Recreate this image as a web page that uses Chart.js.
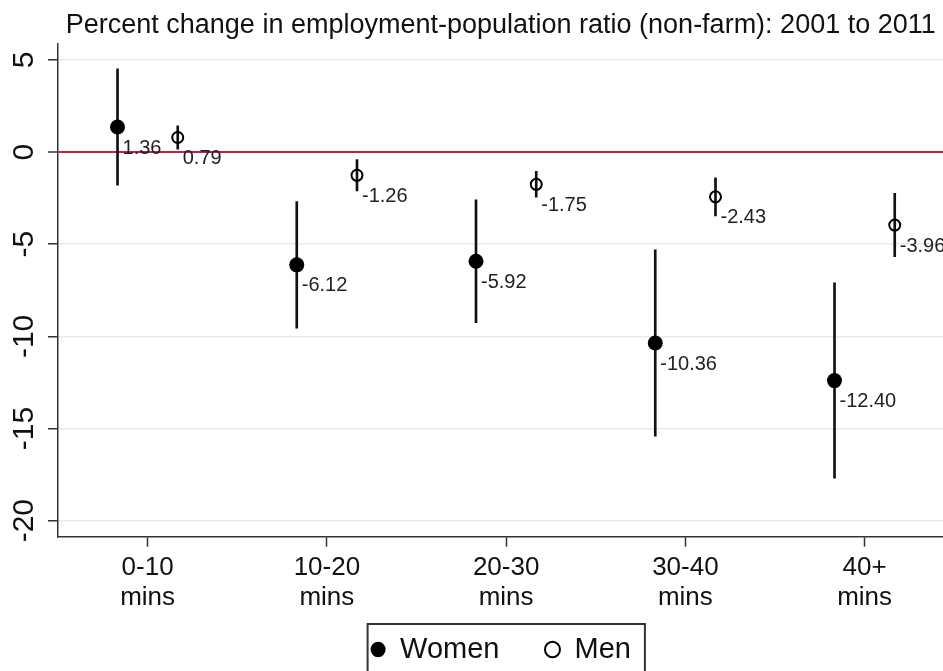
<!DOCTYPE html>
<html>
<head>
<meta charset="utf-8">
<script src="https://cdn.jsdelivr.net/npm/chart.js@4/dist/chart.umd.min.js"></script>
<style>
  html, body { margin: 0; padding: 0; background: #fff; overflow: hidden; }
  canvas { display: block; }
</style>
</head>
<body>
<canvas id="chart" width="951" height="674"></canvas>
<script>
const categories = ['0-10 mins', '10-20 mins', '20-30 mins', '30-40 mins', '40+ mins']
const womenMean = [1.36, -6.12, -5.92, -10.36, -12.40]
const womenLow = [-1.80, -9.55, -9.25, -15.41, -17.70]
const womenHigh = [4.52, -2.69, -2.59, -5.31, -7.10]
const menMean = [0.79, -1.26, -1.75, -2.43, -3.96]
const menLow = [0.16, -2.11, -2.45, -3.46, -5.68]
const menHigh = [1.42, -0.41, -1.05, -1.40, -2.24]
const yTicks = [-20, -15, -10, -5, 0, 5]

const shift = 0.168
const FONT = "'Liberation Sans', Arial, Helvetica, sans-serif"

// marker labels at the lower right of each point
const markerLabels = {
  id: 'markerLabels',
  afterDatasetsDraw(chart) {
    const ctx = chart.ctx
    ctx.save()
    ctx.font = '20px ' + FONT
    ctx.fillStyle = '#222'
    ctx.textAlign = 'left'
    ctx.textBaseline = 'middle'
    chart.data.datasets.forEach((ds, di) => {
      if (ds.type === 'bar') return
      chart.getDatasetMeta(di).data.forEach((pt, i) => {
        ctx.fillText(ds.data[i].y.toFixed(2), pt.x + 5, pt.y + 21)
      })
    })
    ctx.restore()
  }
}

// box round the legend
const legendBox = {
  id: 'legendBox',
  afterDraw(chart) {
    const boxes = chart.legend.legendHitBoxes
    if (!boxes || !boxes.length) return
    const first = boxes[0]
    const last = boxes[boxes.length - 1]
    const ctx = chart.ctx
    ctx.save()
    ctx.strokeStyle = '#333'
    ctx.lineWidth = 2
    const left = first.left - 3
    const right = last.left + last.width + 14
    ctx.strokeRect(left, first.top - 11, right - left, 100)
    ctx.restore()
  }
}

new Chart(document.getElementById('chart'), {
  type: 'scatter',
  data: {
    datasets: [
      {
        type: 'bar',
        label: 'Women CI',
        data: womenLow.map((lo, i) => ({ x: i - shift, y: [lo, womenHigh[i]] })),
        backgroundColor: '#111',
        barThickness: 2,
        grouped: false,
        order: 2
      },
      {
        type: 'bar',
        label: 'Men CI',
        data: menLow.map((lo, i) => ({ x: i + shift, y: [lo, menHigh[i]] })),
        backgroundColor: '#111',
        barThickness: 2,
        grouped: false,
        order: 2
      },
      {
        label: 'Women',
        data: womenMean.map((v, i) => ({ x: i - shift, y: v })),
        pointRadius: 7.5,
        pointBorderWidth: 0,
        backgroundColor: '#000',
        borderColor: '#000',
        order: 1
      },
      {
        label: 'Men',
        data: menMean.map((v, i) => ({ x: i + shift, y: v })),
        pointRadius: 5.5,
        pointBorderWidth: 2,
        borderWidth: 2,
        backgroundColor: 'rgba(0,0,0,0)',
        borderColor: '#000',
        order: 1
      }
    ]
  },
  options: {
    responsive: false,
    animation: false,
    devicePixelRatio: 1,
    layout: { padding: 0 },
    scales: {
      x: {
        type: 'linear',
        min: -0.5,
        max: 4.44,
        offset: false,
        afterBuildTicks: scale => { scale.ticks = categories.map((c, i) => ({ value: i })) },
        border: { color: '#333', width: 1.5 },
        grid: { offset: false, drawOnChartArea: false, drawTicks: true, tickLength: 10, tickColor: '#333', tickWidth: 1.5 },
        ticks: {
          autoSkip: false,
          maxRotation: 0,
          padding: 6,
          color: '#111',
          font: { family: FONT, size: 26, lineHeight: 1.15 },
          callback: value => categories[value] ? categories[value].split(' ') : ''
        }
      },
      y: {
        min: -20.87,
        max: 5.87,
        beginAtZero: false,
        afterBuildTicks: scale => { scale.ticks = yTicks.map(v => ({ value: v })) },
        afterFit: scale => { scale.width = 58 },
        border: { color: '#333', width: 1.5 },
        grid: {
          color: c => c.tick && c.tick.value === 0 ? '#c81e46' : '#e9e9e9',
          lineWidth: c => c.tick && c.tick.value === 0 ? 2 : 1.5,
          tickColor: '#333',
          tickLength: 10,
          tickWidth: 1.5
        },
        ticks: {
          minRotation: 90,
          maxRotation: 90,
          crossAlign: 'center',
          padding: 2,
          color: '#111',
          font: { family: FONT, size: 30 }
        }
      }
    },
    plugins: {
      title: {
        display: true,
        text: 'Percent change in employment-population ratio (non-farm): 2001 to 2011',
        fullSize: false,
        color: '#111',
        font: { family: FONT, size: 27, weight: 'normal' },
        padding: { top: 9, bottom: 2.5 }
      },
      legend: {
        position: 'bottom',
        fullSize: false,
        labels: {
          filter: item => item.datasetIndex >= 2,
          generateLabels: chart => {
            const items = Chart.defaults.plugins.legend.labels.generateLabels(chart)
            items.forEach(item => { if (item.text === 'Women') item.text = 'Women\u2002\u2002' })
            return items
          },
          usePointStyle: true,
          pointStyle: 'circle',
          pointStyleWidth: 15,
          boxHeight: 11,
          padding: 16.5,
          color: '#111',
          font: { family: FONT, size: 29 }
        }
      },
      tooltip: { enabled: false }
    }
  },
  plugins: [markerLabels, legendBox]
})
</script>
</body>
</html>
